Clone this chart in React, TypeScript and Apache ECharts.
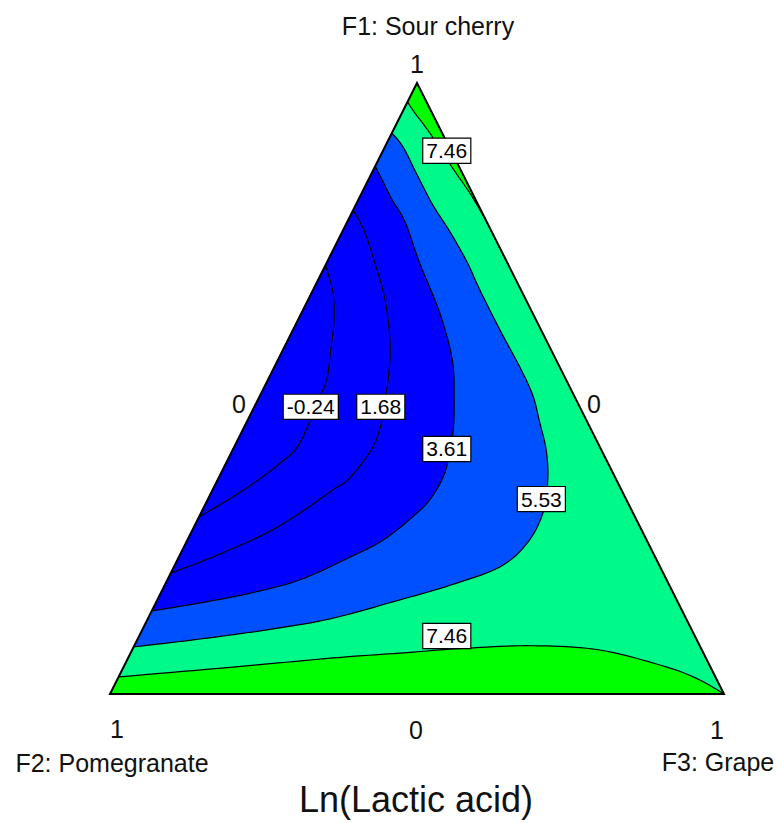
import React, { useEffect, useRef } from "react";
import * as echarts from "echarts";

// Ternary compositions.
// Each point is [F1 (Sour cherry), F3 (Grape)]; F2 (Pomegranate) = 1 - F1 - F3.
const contourNeg024 = [
  [0.702, 0], [0.658, 0.034], [0.612, 0.059], [0.563, 0.078], [0.514, 0.096],
  [0.481, 0.098], [0.448, 0.102], [0.404, 0.103], [0.378, 0.088], [0.35, 0.066],
  [0.319, 0.035], [0.29, 0],
];
const contour168 = [
  [0.792, 0], [0.756, 0.037], [0.71, 0.075], [0.661, 0.114], [0.612, 0.147],
  [0.563, 0.175], [0.514, 0.196], [0.481, 0.207], [0.448, 0.219], [0.404, 0.226],
  [0.354, 0.214], [0.334, 0.196], [0.296, 0.161], [0.264, 0.124], [0.236, 0.077],
  [0.216, 0.039], [0.198, 0],
];
const contour361 = [
  [0.864, 0], [0.846, 0.018], [0.809, 0.055], [0.773, 0.094], [0.705, 0.152],
  [0.624, 0.225], [0.547, 0.284], [0.481, 0.32], [0.432, 0.343], [0.388, 0.358],
  [0.355, 0.365], [0.318, 0.362], [0.29, 0.348], [0.252, 0.319], [0.224, 0.279],
  [0.187, 0.216], [0.165, 0.146], [0.149, 0.072], [0.136, 0],
];
const contour553 = [
  [0.918, 0], [0.895, 0.03], [0.846, 0.079], [0.8, 0.126], [0.756, 0.176],
  [0.707, 0.228], [0.661, 0.272], [0.596, 0.337], [0.535, 0.4], [0.489, 0.444],
  [0.444, 0.478], [0.399, 0.511], [0.35, 0.538], [0.296, 0.557], [0.247, 0.556],
  [0.208, 0.531], [0.178, 0.465], [0.154, 0.395], [0.123, 0.297], [0.105, 0.203],
  [0.09, 0.102], [0.077, 0],
];
const contour746Low = [
  [0.028, 0], [0.044, 0.178], [0.059, 0.334], [0.067, 0.439], [0.075, 0.544],
  [0.079, 0.65], [0.072, 0.762], [0.044, 0.885], [0.023, 0.949], [0, 1],
];
const contour746Up = [
  [0.969, 0], [0.951, 0.021], [0.918, 0.062], [0.863, 0.125], [0.82, 0.176],
  [0.787, 0.212], [0.774, 0.226],
];

// Vertices [F1, F3]
const vertexF1 = [1, 0];
const vertexF2 = [0, 0];
const vertexF3 = [0, 1];

// Contour labels
const labelTexts = ["7.46", "-0.24", "1.68", "3.61", "5.53", "7.46"];
const labelPoints = [
  [0.889, 0.104], [0.47, 0.092], [0.47, 0.206], [0.401, 0.348], [0.319, 0.543], [0.095, 0.501],
];

// Band colours
const colorBlue = "#0000FF";
const colorLightBlue = "#0050FF";
const colorSpring = "#00FA8A";
const colorGreen = "#00FF00";

// Ternary vertex axis labels
const vertexNames = ["F1: Sour cherry", "F2: Pomegranate", "F3: Grape"];
const tickLabels = ["1", "0", "0", "1", "0", "1"];
const chartTitle = "Ln(Lactic acid)";

type Region = { contour: number[][] | null; before: number[][]; after: number[][]; fill: string | null; border?: boolean };

const regions: Region[] = [
  { contour: null, before: [vertexF1, vertexF2, vertexF3], after: [], fill: colorSpring },
  { contour: contour553, before: [], after: [], fill: colorLightBlue },
  { contour: contour361, before: [], after: [], fill: colorBlue },
  { contour: contour168, before: [], after: [], fill: colorBlue },
  { contour: contourNeg024, before: [], after: [], fill: colorBlue },
  { contour: contour746Low, before: [], after: [vertexF2], fill: colorGreen },
  { contour: contour746Up, before: [], after: [vertexF1], fill: colorGreen },
  { contour: null, before: [vertexF1, vertexF2, vertexF3], after: [], fill: null, border: true },
];

const toXY = (p: number[]) => [p[1] + p[0] / 2, p[0]];

function catmull(pts: number[][], steps = 10): number[][] {
  if (pts.length < 3) return pts.slice();
  const out: number[][] = [];
  for (let i = 0; i < pts.length - 1; i++) {
    const p0 = pts[Math.max(0, i - 1)];
    const p1 = pts[i];
    const p2 = pts[i + 1];
    const p3 = pts[Math.min(pts.length - 1, i + 2)];
    for (let s = 0; s < steps; s++) {
      const t = s / steps;
      const t2 = t * t;
      const t3 = t2 * t;
      out.push(
        [0, 1].map(
          (k) =>
            0.5 *
            (2 * p1[k] +
              (-p0[k] + p2[k]) * t +
              (2 * p0[k] - 5 * p1[k] + 4 * p2[k] - p3[k]) * t2 +
              (-p0[k] + 3 * p1[k] - 3 * p2[k] + p3[k]) * t3)
        )
      );
    }
  }
  out.push(pts[pts.length - 1].slice());
  return out;
}

const FONT = '"Liberation Sans", Arial, sans-serif';

export default function App() {
  const ref = useRef<HTMLDivElement>(null);
  useEffect(() => {
    if (!ref.current) return;
    const chart = echarts.init(ref.current, undefined, { renderer: "svg" });

    const regionItem = (params: any, api: any) => {
      const r = regions[api.value(2)];
      const px = (p: number[]) => api.coord(toXY(p));
      const children: any[] = [];
      if (r.contour) {
        const line = catmull(r.contour.map(px));
        const poly = [...r.before.map(px), ...line, ...r.after.map(px)];
        children.push({ type: "polygon", shape: { points: poly }, style: { fill: r.fill, stroke: null } });
        children.push({ type: "polyline", shape: { points: line }, style: { fill: null, stroke: "#000", lineWidth: 1.2 } });
      } else {
        const poly = r.before.map(px);
        if (r.border) {
          children.push({ type: "polygon", shape: { points: poly }, style: { fill: null, stroke: "#000", lineWidth: 2, lineJoin: "miter" } });
        } else {
          children.push({ type: "polygon", shape: { points: poly }, style: { fill: r.fill, stroke: null } });
        }
      }
      return { type: "group", children };
    };

    const labelItem = (params: any, api: any) => {
      const i = api.value(2);
      const p = api.coord(toXY(labelPoints[i]));
      return {
        type: "text",
        x: p[0],
        y: p[1],
        style: {
          text: labelTexts[i],
          font: `21px ${FONT}`,
          fill: "#000",
          align: "center",
          verticalAlign: "middle",
          backgroundColor: "#fff",
          borderColor: "#000",
          borderWidth: 1.2,
          padding: [2, 3, 1, 3],
        },
      };
    };

    const txt = (text: string, x: number, y: number, size: number) => ({
      type: "text",
      x,
      y,
      silent: true,
      style: {
        text,
        font: `${size}px ${FONT}`,
        fill: "#111",
        align: "center",
        verticalAlign: "middle",
        textAlign: "center",
        textVerticalAlign: "middle",
      },
    });

    chart.setOption({
      animation: false,
      grid: { left: 110, top: 83, width: 614, height: 611, containLabel: false },
      xAxis: { type: "value", min: 0, max: 1, show: false },
      yAxis: { type: "value", min: 0, max: 1, show: false },
      series: [
        {
          type: "custom",
          silent: true,
          renderItem: regionItem,
          data: regions.map((_, i) => [0.5, 0.5, i]),
        },
        {
          type: "custom",
          silent: true,
          renderItem: labelItem,
          data: labelTexts.map((_, i) => [0.5, 0.5, i]),
        },
      ],
      graphic: [
        txt(vertexNames[0], 428, 26, 25),
        txt(tickLabels[0], 417, 64, 25),
        txt(tickLabels[1], 239, 404, 25),
        txt(tickLabels[2], 594, 404, 25),
        txt(tickLabels[3], 117, 729, 25),
        txt(tickLabels[4], 416, 730, 25),
        txt(tickLabels[5], 717, 730, 25),
        txt(vertexNames[1], 112, 763, 25),
        txt(vertexNames[2], 718, 762, 25),
        txt(chartTitle, 416, 799, 36),
      ],
    });
    return () => chart.dispose();
  }, []);
  return <div ref={ref} style={{ position: "fixed", left: 0, top: 0, width: 780, height: 823, background: "#fff" }} />;
}
